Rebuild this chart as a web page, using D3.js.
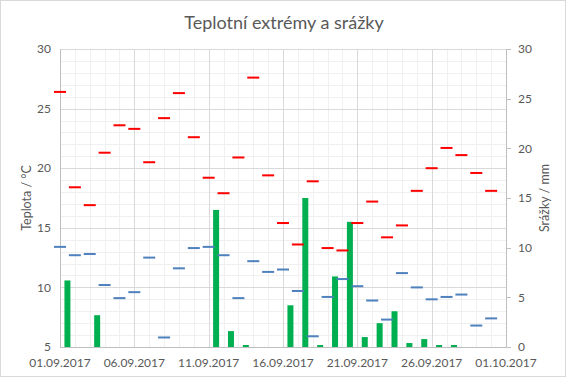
<!DOCTYPE html>
<html>
<head>
<meta charset="utf-8">
<script src="https://cdn.jsdelivr.net/npm/d3@7"></script>
<style>
  body { margin: 0; background: #fff; }
  text { font-family: Lato, "Open Sans", sans-serif; fill: #595959; }
</style>
</head>
<body>
<div id="my_dataviz"></div>
<script>
// daily values, September 2017
var days = ["2017-09-01","2017-09-02","2017-09-03","2017-09-04","2017-09-05","2017-09-06","2017-09-07","2017-09-08","2017-09-09","2017-09-10",
            "2017-09-11","2017-09-12","2017-09-13","2017-09-14","2017-09-15","2017-09-16","2017-09-17","2017-09-18","2017-09-19","2017-09-20",
            "2017-09-21","2017-09-22","2017-09-23","2017-09-24","2017-09-25","2017-09-26","2017-09-27","2017-09-28","2017-09-29","2017-09-30"];
var tMax = [26.4, 18.4, 16.9, 21.3, 23.6, 23.3, 20.5, 24.2, 26.3, 22.6,
            19.2, 17.9, 20.9, 27.6, 19.4, 15.4, 13.6, 18.9, 13.3, 13.1,
            15.4, 17.2, 14.2, 15.2, 18.1, 20.0, 21.7, 21.1, 19.6, 18.1];
var tMin = [13.4, 12.7, 12.8, 10.2, 9.1, 9.6, 12.5, 5.8, 11.6, 13.3,
            13.4, 12.7, 9.1, 12.2, 11.3, 11.5, 9.7, 5.9, 9.2, 10.7,
            10.1, 8.9, 7.3, 11.2, 10.0, 9.0, 9.2, 9.4, 6.8, 7.4];
var rain = [6.7, 0, 3.2, 0, 0, 0, 0, 0, 0, 0,
            13.8, 1.6, 0.2, 0, 0, 4.2, 15.0, 0.2, 7.1, 12.6,
            1.0, 2.4, 3.6, 0.4, 0.8, 0.2, 0.2, 0, 0, 0];
var dateTicks = ["2017-09-01","2017-09-06","2017-09-11","2017-09-16","2017-09-21","2017-09-26","2017-10-01"];
var tempTicks = [5, 10, 15, 20, 25, 30];
var rainTicks = [0, 5, 10, 15, 20, 25, 30];

var margin = {top: 49, right: 61, bottom: 31, left: 60},
    width = 567 - margin.left - margin.right,
    height = 378 - margin.top - margin.bottom;

document.addEventListener('DOMContentLoaded', function () {
  var parse = d3.timeParse("%Y-%m-%d");
  var data = days.map(function(d, i) {
    return {date: parse(d), max: tMax[i], min: tMin[i], rain: rain[i]};
  });
  var xTicks = dateTicks.map(parse);

  var root = d3.select("#my_dataviz")
    .append("svg")
      .attr("width", 567)
      .attr("height", 378);

  // chart border
  root.append("rect")
    .attr("x", 0.5).attr("y", 0.5)
    .attr("width", 565).attr("height", 376)
    .attr("fill", "#fff")
    .attr("stroke", "#d9d9d9");

  // title
  root.append("text")
    .attr("x", 284).attr("y", 29)
    .attr("text-anchor", "middle")
    .style("font-size", "18px")
    .text("Teplotní extrémy a srážky");

  var svg = root.append("g")
    .attr("transform", `translate(${margin.left}, ${margin.top})`);

  // scales
  var x = d3.scaleTime()
    .domain([xTicks[0], xTicks[xTicks.length - 1]])
    .range([0, width]);
  var y = d3.scaleLinear().domain([5, 30]).range([height, 0]);
  var y2 = d3.scaleLinear().domain([0, 30]).range([height, 0]);

  // minor grid
  var allDays = d3.timeDay.range(xTicks[0], d3.timeDay.offset(xTicks[xTicks.length - 1], 1));
  svg.append("g").selectAll("line")
    .data(allDays)
    .join("line")
      .attr("x1", function(d) { return Math.round(x(d)) + 0.5; })
      .attr("x2", function(d) { return Math.round(x(d)) + 0.5; })
      .attr("y1", 0).attr("y2", height)
      .attr("stroke", "#f0f0f0");
  svg.append("g").selectAll("line")
    .data(d3.range(6, 30))
    .join("line")
      .attr("x1", 0).attr("x2", width)
      .attr("y1", function(d) { return Math.round(y(d)) + 0.5; })
      .attr("y2", function(d) { return Math.round(y(d)) + 0.5; })
      .attr("stroke", "#f0f0f0");

  // major grid
  svg.append("g").selectAll("line")
    .data(xTicks)
    .join("line")
      .attr("x1", function(d) { return Math.round(x(d)) + 0.5; })
      .attr("x2", function(d) { return Math.round(x(d)) + 0.5; })
      .attr("y1", 0).attr("y2", height)
      .attr("stroke", "#d9d9d9");
  svg.append("g").selectAll("line")
    .data(tempTicks)
    .join("line")
      .attr("x1", 0).attr("x2", width)
      .attr("y1", function(d) { return Math.round(y(d)) + 0.5; })
      .attr("y2", function(d) { return Math.round(y(d)) + 0.5; })
      .attr("stroke", "#d9d9d9");

  // rain bars (centred half a day after the tick)
  var bw = 6;
  svg.append("g").selectAll("rect")
    .data(data.filter(function(d) { return d.rain > 0; }))
    .join("rect")
      .attr("x", function(d) { return x(d3.timeHour.offset(d.date, 12)) - bw / 2; })
      .attr("y", function(d) { return y2(d.rain); })
      .attr("width", bw)
      .attr("height", function(d) { return height - y2(d.rain); })
      .attr("fill", "#00b050");

  // axes lines
  var axisColor = "#bfbfbf";
  svg.append("line").attr("x1", 0.5).attr("x2", 0.5).attr("y1", 0).attr("y2", height + 0.5).attr("stroke", axisColor);
  svg.append("line").attr("x1", 0).attr("x2", width).attr("y1", height + 0.5).attr("y2", height + 0.5).attr("stroke", axisColor);
  svg.append("line").attr("x1", width + 0.5).attr("x2", width + 0.5).attr("y1", 0).attr("y2", height + 0.5).attr("stroke", axisColor);

  // temperature dashes
  var dw = 12;
  svg.append("g").selectAll("rect")
    .data(data)
    .join("rect")
      .attr("x", function(d) { return x(d.date) - dw / 2; })
      .attr("y", function(d) { return y(d.min) - 1; })
      .attr("width", dw).attr("height", 2)
      .attr("fill", "#4f81bd");
  svg.append("g").selectAll("rect")
    .data(data)
    .join("rect")
      .attr("x", function(d) { return x(d.date) - dw / 2; })
      .attr("y", function(d) { return y(d.max) - 1; })
      .attr("width", dw).attr("height", 2)
      .attr("fill", "#ff0000");

  // left axis labels
  svg.append("g").selectAll("text")
    .data(tempTicks)
    .join("text")
      .attr("x", -9)
      .attr("y", function(d) { return y(d); })
      .attr("dy", "0.35em")
      .attr("text-anchor", "end")
      .style("font-size", "12px")
      .text(function(d) { return d; });

  // right axis ticks + labels
  svg.append("g").selectAll("line")
    .data(rainTicks)
    .join("line")
      .attr("x1", width).attr("x2", width + 5)
      .attr("y1", function(d) { return Math.round(y2(d)) + 0.5; })
      .attr("y2", function(d) { return Math.round(y2(d)) + 0.5; })
      .attr("stroke", axisColor);
  svg.append("g").selectAll("text")
    .data(rainTicks)
    .join("text")
      .attr("x", width + 12)
      .attr("y", function(d) { return y2(d); })
      .attr("dy", "0.35em")
      .style("font-size", "12px")
      .text(function(d) { return d; });

  // x labels
  var fmt = d3.timeFormat("%d.%m.%Y");
  svg.append("g").selectAll("text")
    .data(xTicks)
    .join("text")
      .attr("x", function(d) { return x(d); })
      .attr("y", height + 20)
      .attr("text-anchor", "middle")
      .style("font-size", "12px")
      .text(function(d) { return fmt(d); });

  // axis titles
  root.append("text")
    .attr("transform", "translate(31,198) rotate(-90)")
    .attr("text-anchor", "middle")
    .style("font-size", "12.5px")
    .text("Teplota / °C");
  root.append("text")
    .attr("transform", "translate(549,198) rotate(-90)")
    .attr("text-anchor", "middle")
    .style("font-size", "12.5px")
    .text("Srážky / mm");
});
</script>
</body>
</html>
